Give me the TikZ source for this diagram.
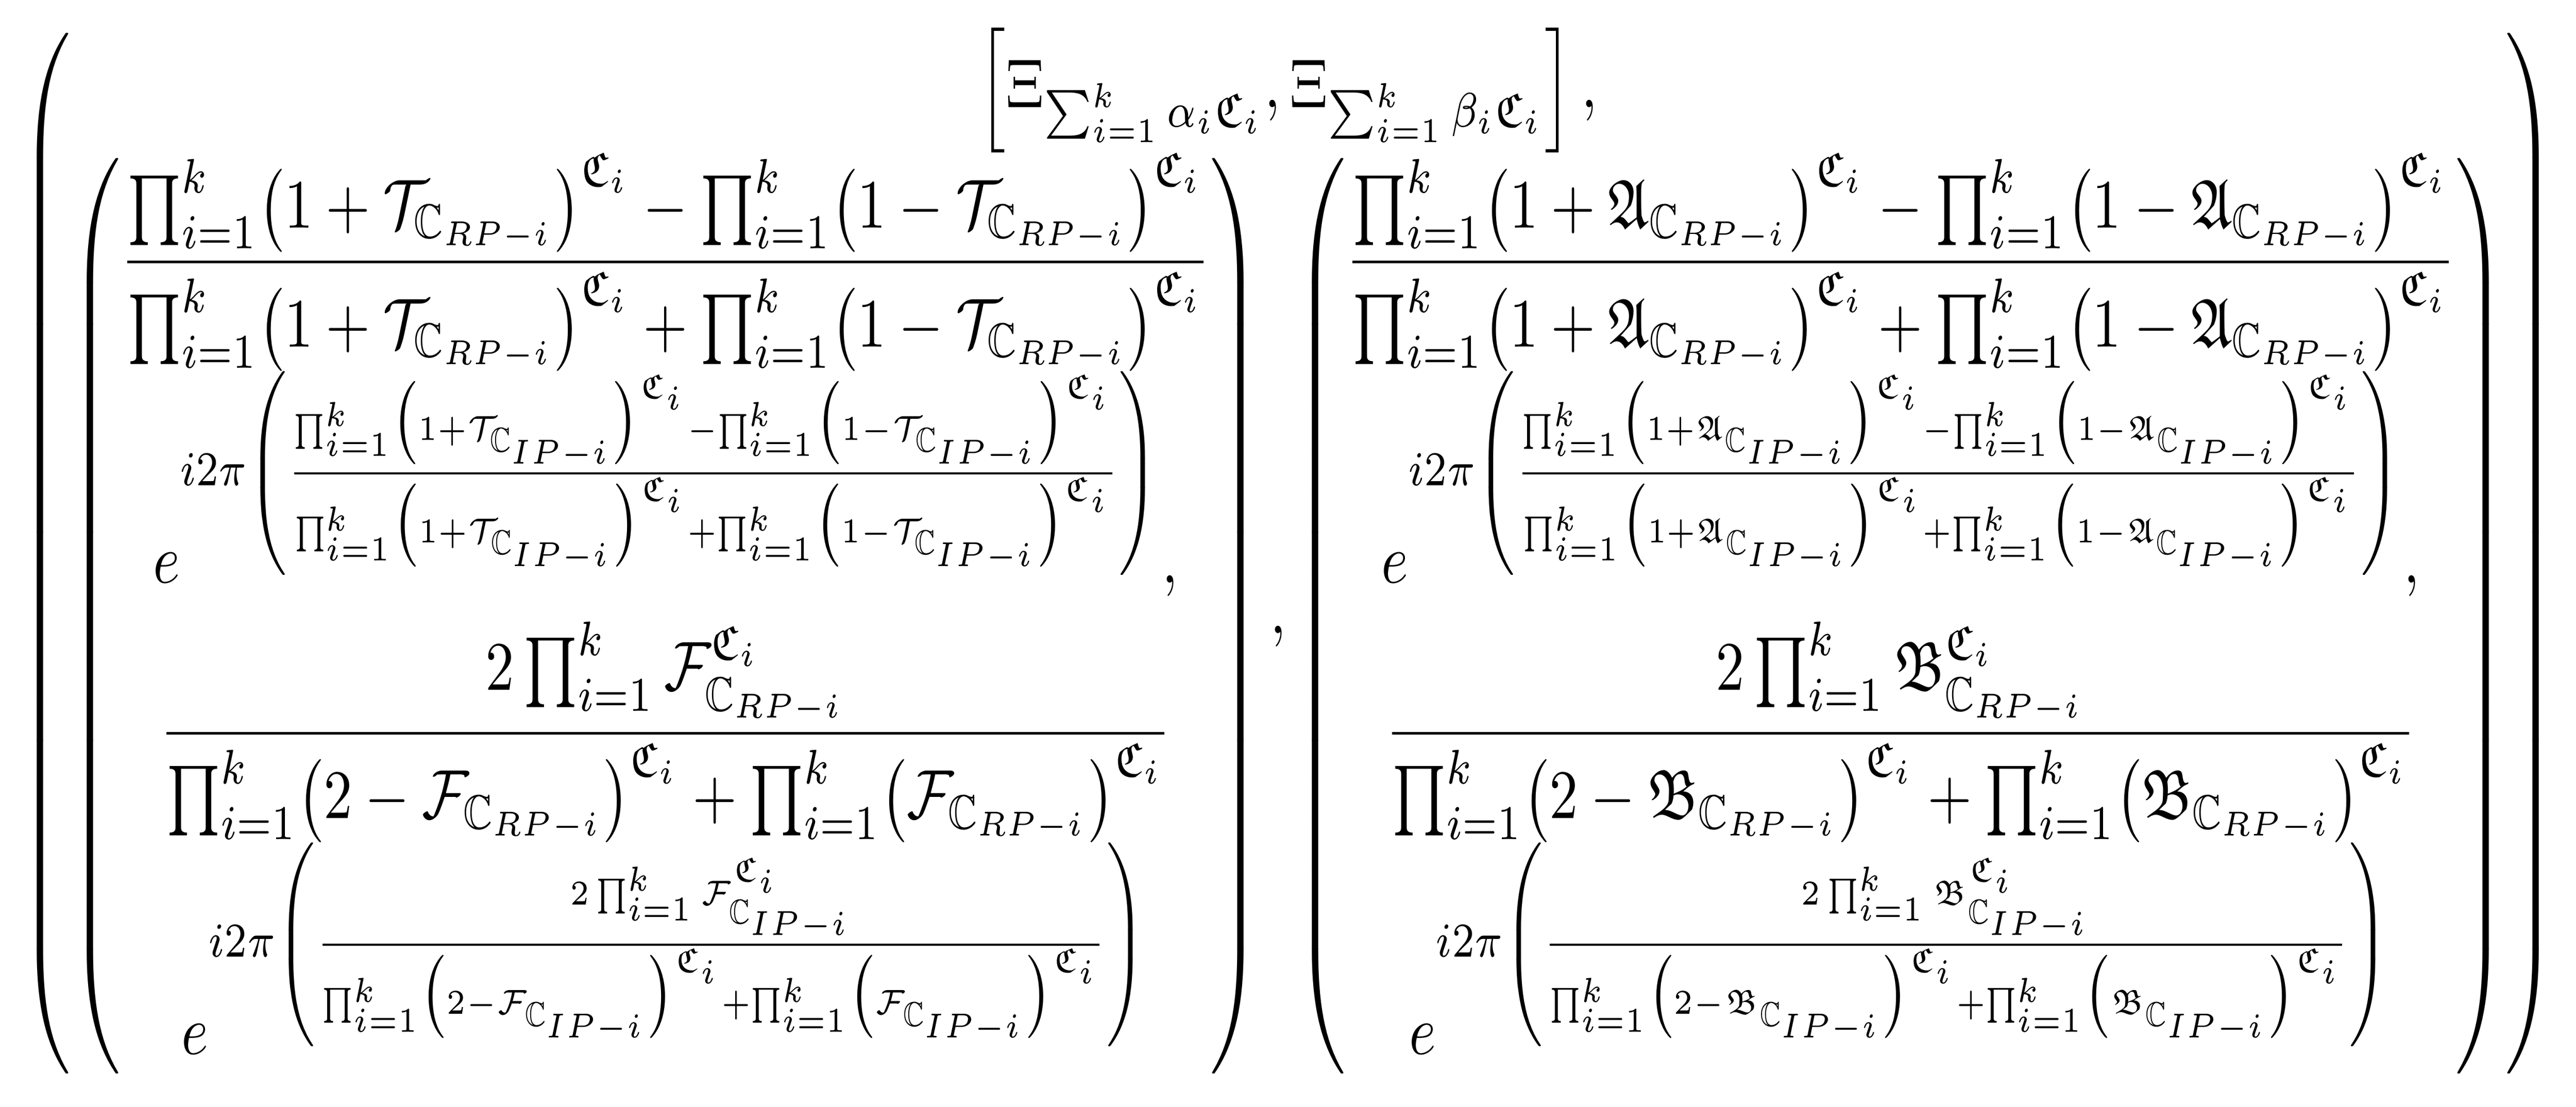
\documentclass[tikz,border=0pt]{standalone}
\usepackage{amsmath,amssymb}
\newcommand{\PP}{\prod\nolimits_{i=1}^{k}}
\newcommand{\CC}{\mathfrak{C}_i}
\newcommand{\RP}{_{\mathbb{C}_{RP-i}}}
\newcommand{\IP}{_{\mathbb{C}_{IP-i}}}
\newcommand{\blk}[2]{\left(\begin{array}{@{}c@{}}
\dfrac{\PP\bigl(1+#1\RP\bigr)^{\CC}-\PP\bigl(1-#1\RP\bigr)^{\CC}}{\PP\bigl(1+#1\RP\bigr)^{\CC}+\PP\bigl(1-#1\RP\bigr)^{\CC}}\\[2pt]
e^{i2\pi\left(\frac{\PP\bigl(1+#1\IP\bigr)^{\CC}-\PP\bigl(1-#1\IP\bigr)^{\CC}}{\PP\bigl(1+#1\IP\bigr)^{\CC}+\PP\bigl(1-#1\IP\bigr)^{\CC}}\right)},\\[2pt]
\dfrac{2\PP #2^{\CC}\RP}{\PP\bigl(2-#2\RP\bigr)^{\CC}+\PP\bigl(#2\RP\bigr)^{\CC}}\\[2pt]
e^{i2\pi\left(\frac{2\PP #2^{\CC}\IP}{\PP\bigl(2-#2\IP\bigr)^{\CC}+\PP\bigl(#2\IP\bigr)^{\CC}}\right)}
\end{array}\right)}
\begin{document}
\begin{tikzpicture}
\useasboundingbox[fill=white] (0,0) rectangle (23.27,10);
\node[inner sep=0] (f) at (11.635,5) {\resizebox*{22.9cm}{9.5cm}{$\displaystyle
\left(\begin{array}{@{}c@{}}
\left[\Xi_{\sum_{i=1}^{k}\alpha_i\mathfrak{C}_i},\Xi_{\sum_{i=1}^{k}\beta_i\mathfrak{C}_i}\right],\\
\blk{\mathcal{T}}{\mathcal{F}},\blk{\mathfrak{A}}{\mathfrak{B}}
\end{array}\right)$}};
\end{tikzpicture}
\end{document}
